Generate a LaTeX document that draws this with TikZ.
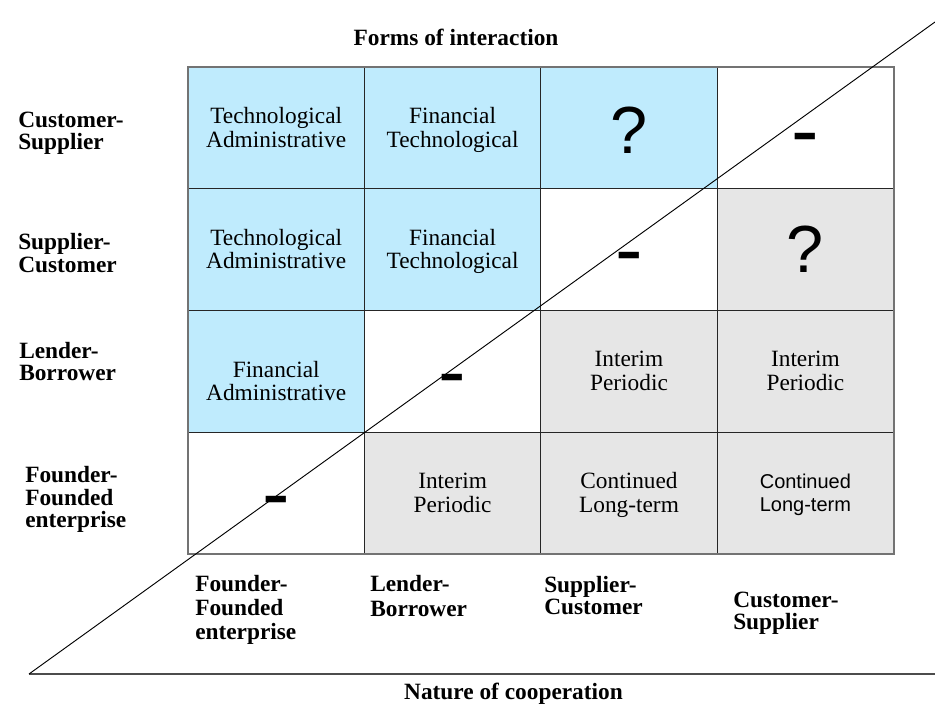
\documentclass[tikz,border=0pt]{standalone}
\usepackage{fontspec}
\setmainfont{Liberation Serif}
\setsansfont{Liberation Sans}
\definecolor{cellblue}{HTML}{BFEBFD}
\definecolor{cellgray}{HTML}{E6E6E6}
\newcommand\nilmark{\raisebox{-0.34em}[0pt][0pt]{-}}
\tikzset{
  cellbox/.style={draw=black!85,line width=0.75pt,minimum width=132.3pt,minimum height=91.3pt,inner sep=0pt},
  celltxt/.style={align=center,inner sep=0pt,yshift=-1.5pt,execute at end node={\vphantom{g}},font=\fontsize{17.5}{17.6}\selectfont},
  sanstxt/.style={celltxt,font=\sffamily\fontsize{15}{17}\selectfont},
  quest/.style={inner sep=0pt,font=\sffamily\fontsize{50}{50}\selectfont},
  nilcell/.style={inner sep=0pt,font=\sffamily\fontsize{62}{62}\selectfont},
  lab/.style={align=left,inner sep=0pt,anchor=north west,font=\bfseries\fontsize{17.5}{#1}\selectfont},
  lab/.default=17
}
\begin{document}
\begin{tikzpicture}[x=0.75pt,y=-0.75pt]
\useasboundingbox (0,0) rectangle (935,706);
% the grid of cells
\foreach \r/\c/\f in {1/1/cellblue,1/2/cellblue,1/3/cellblue,1/4/white,
  2/1/cellblue,2/2/cellblue,2/3/white,2/4/cellgray,
  3/1/cellblue,3/2/white,3/3/cellgray,3/4/cellgray,
  4/1/white,4/2/cellgray,4/3/cellgray,4/4/cellgray}
  \node[cellbox,fill=\f] (c\r\c) at ({188+176.4*(\c-0.5)},{67+121.75*(\r-0.5)}) {};
\draw[black!55,line width=1.5pt] (c11.north west) rectangle (c44.south east);
% axes
\coordinate (o) at (29,674);
\coordinate (e) at (935,22);
\coordinate (h) at (935,674);
\draw[black!70,line width=1.5pt] (o) -- (h);
\draw[line width=0.7pt] (o) -- (e);
% cell contents
\node[celltxt] (t11) at (c11) {Technological\\Administrative};
\node[celltxt] (t12) at (c12) {Financial\\Technological};
\node[quest] (t13) at ([yshift=-2pt]c13) {?};
\node[nilcell] (t14) at ([yshift=-2pt]c14) {\nilmark};
\node[celltxt] (t21) at (c21) {Technological\\Administrative};
\node[celltxt] (t22) at (c22) {Financial\\Technological};
\node[nilcell] (t23) at (c23) {\nilmark};
\node[quest] (t24) at (c24) {?};
\node[celltxt] (t31) at ([yshift=-7.5pt]c31) {Financial\\Administrative};
\node[nilcell] (t32) at (c32) {\nilmark};
\node[celltxt] (t33) at (c33) {Interim\\Periodic};
\node[celltxt] (t34) at (c34) {Interim\\Periodic};
\node[nilcell] (t41) at (c41) {\nilmark};
\node[celltxt] (t42) at (c42) {Interim\\Periodic};
\node[celltxt] (t43) at (c43) {Continued\\Long-term};
\node[sanstxt] (t44) at (c44) {Continued\\Long-term};
% headings
\node[lab,anchor=north] (forms) at (456,29) {Forms of interaction};
\node[lab,anchor=north] (nature) at (513.5,683) {Nature of cooperation};
\node[lab=16.5] (r1) at (18,112) {Customer-\\Supplier};
\node[lab=17.5] (r2) at (18,233) {Supplier-\\Customer};
\node[lab=16.5] (r3) at (19,342) {Lender-\\Borrower};
\node[lab=17] (r4) at (25,466) {Founder-\\Founded\\enterprise};
\node[lab=18] (b1) at (195,575) {Founder-\\Founded\\enterprise};
\node[lab=18.5] (b2) at (370,575) {Lender-\\Borrower};
\node[lab=16.5] (b3) at (544,576) {Supplier-\\Customer};
\node[lab=16.5] (b4) at (733,592) {Customer-\\Supplier};
\end{tikzpicture}
\end{document}
